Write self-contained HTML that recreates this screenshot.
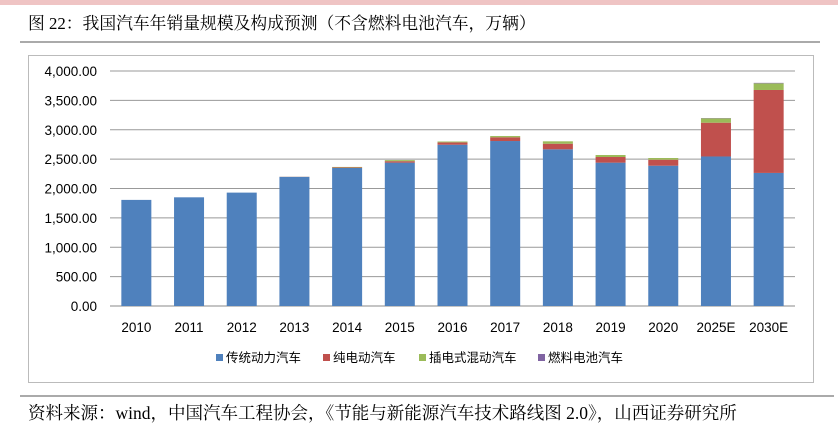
<!DOCTYPE html>
<html><head><meta charset="utf-8"><style>
body{margin:0;background:#fff;width:838px;height:430px;overflow:hidden;font-family:"Liberation Sans","Noto Sans CJK SC",sans-serif;}
</style></head><body>
<svg width="838" height="430" xmlns="http://www.w3.org/2000/svg">
<rect x="0" y="0" width="838" height="5" fill="#efc4c4"/>
<text x="28" y="29" font-size="16.8" fill="#000" font-family="Liberation Serif,Noto Serif CJK SC,serif">图 22：我国汽车年销量规模及构成预测（不含燃料电池汽车，万辆）</text>
<line x1="20" y1="42" x2="820" y2="42" stroke="#555" stroke-width="1"/>
<rect x="28.5" y="55.5" width="785" height="327" fill="#fff" stroke="#bbb"/>
<g id="grid"></g><g id="bars"></g><g id="labels"></g>
<g font-size="12.5" font-family="Liberation Sans,Noto Sans CJK SC,sans-serif">
<rect x="216" y="354" width="7" height="7" fill="#4f81bd"/><text x="226" y="362">传统动力汽车</text>
<rect x="323" y="354" width="7" height="7" fill="#c0504d"/><text x="333" y="362">纯电动汽车</text>
<rect x="419" y="354" width="7" height="7" fill="#9bbb59"/><text x="429" y="362">插电式混动汽车</text>
<rect x="538" y="354" width="7" height="7" fill="#8064a2"/><text x="548" y="362">燃料电池汽车</text>
</g>
<line x1="20" y1="396" x2="834" y2="396" stroke="#555"/>
<text x="28" y="419" font-size="17.5" font-family="Liberation Serif,Noto Serif CJK SC,serif">资料来源：wind，中国汽车工程协会，《节能与新能源汽车技术路线图 2.0》，山西证券研究所</text>
</svg>
<script>
const categories=["2010","2011","2012","2013","2014","2015","2016","2017","2018","2019","2020","2025E","2030E"];
const iceValues=[1806,1850,1930,2198,2349,2440,2745,2808,2667,2440,2388,2545,2265];
const bevValues=[0,0,0,2,10,25,40,63,95,96,102,575,1412];
const phevValues=[0,0,0,1,8,18,15,22,41,34,29,75,113];
const fcvValues=[0,0,0,0,0,0,0,0,0,0,0,5,8];
const yTicks=[0,500,1000,1500,2000,2500,3000,3500,4000];
const NS="http://www.w3.org/2000/svg";
const x0=110,x1=795,yBase=306,yTop=71,yMax=4000;
const step=(x1-x0)/categories.length;
const xC=i=>x0+step*(i+0.5);
const yS=v=>yBase-(v/yMax)*(yBase-yTop);
const grid=document.getElementById('grid'),bars=document.getElementById('bars'),labels=document.getElementById('labels');
function mk(t,a,p){const e=document.createElementNS(NS,t);for(const k in a)e.setAttribute(k,a[k]);p.appendChild(e);return e;}
yTicks.forEach(v=>{
 const l=mk('line',{x1:x0,x2:x1,y1:yS(v),y2:yS(v),stroke:v===0?'#888':'#999','stroke-width':1},grid);
 
 
 const t=mk('text',{x:x0-13,y:yS(v)+5,'text-anchor':'end','font-size':13.5},labels);
 t.textContent=v.toLocaleString('en-US',{minimumFractionDigits:2});
 
 
});
const series=[[iceValues,'#4f81bd','bar-ice'],[bevValues,'#c0504d','bar-bev'],[phevValues,'#9bbb59','bar-phev'],[fcvValues,'#8064a2','bar-fcv']];
categories.forEach((c,i)=>{
 let acc=0;
 series.forEach(([arr,col,nm])=>{
  const v=arr[i]; if(v<=0)return;
  const r=mk('rect',{x:xC(i)-15,width:30,y:yS(acc+v),height:yS(acc)-yS(acc+v),fill:col},bars);
  
  
  acc+=v;
 });
 const t=mk('text',{x:xC(i),y:332,'text-anchor':'middle','font-size':13.5},labels);
 t.textContent=c;
 
 
});
</script>
</body></html>
